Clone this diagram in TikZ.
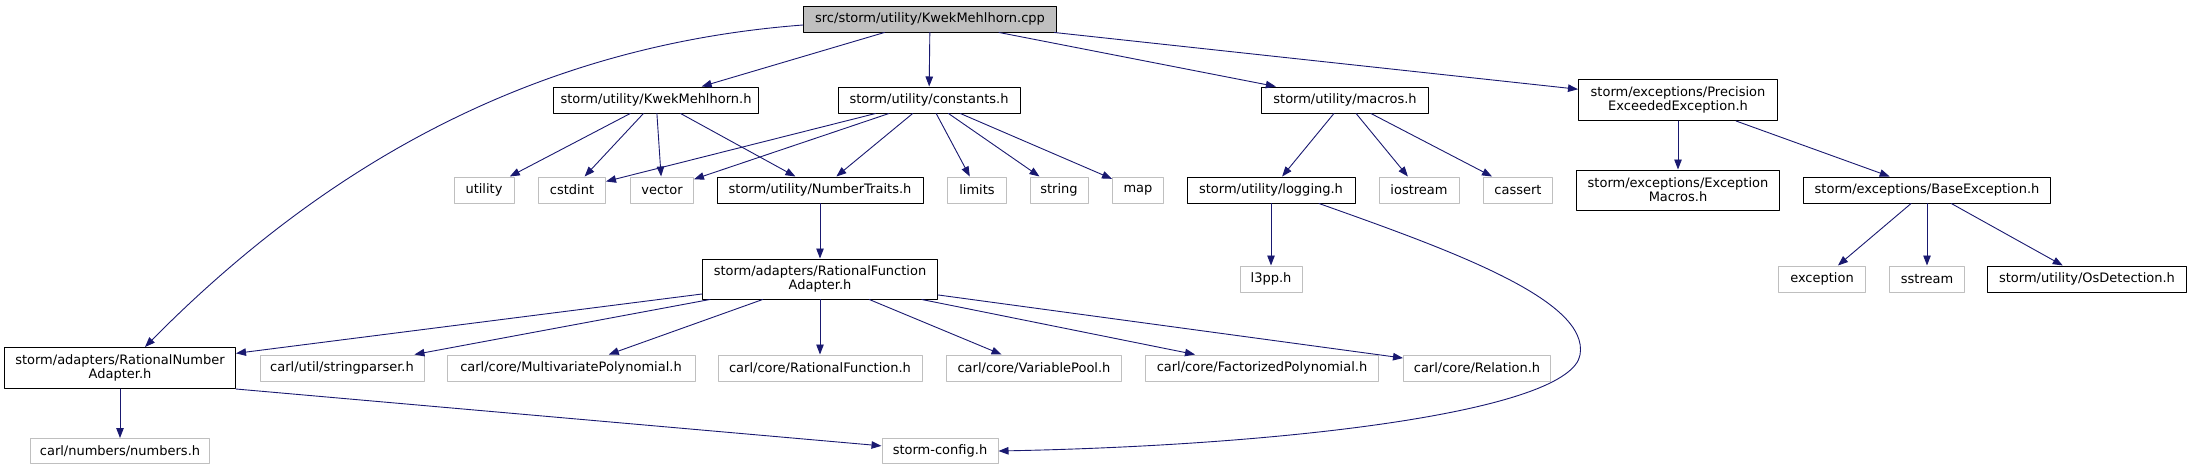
\documentclass[tikz,border=0pt]{standalone}
\usepackage{fontspec}
\setmainfont{DejaVu Sans}
\usepackage{xcolor}
\usepackage{tikz}
\usetikzlibrary{arrows.meta}

\definecolor{edgeblue}{HTML}{191970}
\definecolor{extgray}{HTML}{BFBFBF}

\tikzset{
    hdr/.style={
        rectangle, draw=black, fill=white, line width=1pt,
        inner sep=0pt, minimum height=26pt, align=center,
        font=\fontsize{13}{14}\selectfont
    },
    exthdr/.style={hdr, draw=extgray},
    rootbox/.style={hdr, fill=extgray},
    incl/.style={
        draw=edgeblue, line width=0.9pt,
        -{Triangle[length=10pt, width=7.5pt]}
    }
}

\begin{document}
\begin{tikzpicture}[
        x=1pt,
        y=-1pt,
        line join=round,
        line cap=round
    ]

        \useasboundingbox (0,0) rectangle (2192,469);

        % =================================
        % TẦNG 0: TỆP GỐC
        % =================================
        \node[rootbox, minimum width=253pt] (root) at (930,19)
            {src/storm/utility/KwekMehlhorn.cpp};


        % =================================
        % TẦNG 1
        % =================================
        \node[hdr, minimum width=205pt] (kwek) at (656,100)
            {storm/utility/KwekMehlhorn.h};
        \node[hdr, minimum width=182pt] (constants) at (929,100)
            {storm/utility/constants.h};
        \node[hdr, minimum width=167pt] (macros) at (1345,100)
            {storm/utility/macros.h};
        \node[hdr, minimum width=199pt, minimum height=41pt] (precision) at (1678,100)
            {storm/exceptions/Precision\\ExceededException.h};


        % =================================
        % TẦNG 2
        % =================================
        \node[exthdr, minimum width=60pt] (utility) at (484,190) {utility};
        \node[exthdr, minimum width=67pt] (cstdint) at (572,190) {cstdint};
        \node[exthdr, minimum width=63pt] (vector) at (662,190) {vector};
        \node[hdr, minimum width=206pt] (numtraits) at (820,190)
            {storm/utility/NumberTraits.h};
        \node[exthdr, minimum width=59pt] (limits) at (977,190) {limits};
        \node[exthdr, minimum width=58pt] (string) at (1059,190) {string};
        \node[exthdr, minimum width=51pt] (map) at (1138,190) {map};
        \node[hdr, minimum width=168pt] (logging) at (1271,190)
            {storm/utility/logging.h};
        \node[exthdr, minimum width=80pt] (iostream) at (1419,190) {iostream};
        \node[exthdr, minimum width=69pt] (cassert) at (1518,190) {cassert};
        \node[hdr, minimum width=203pt, minimum height=40pt] (excmacros) at (1678,190)
            {storm/exceptions/Exception\\Macros.h};
        \node[hdr, minimum width=247pt] (baseexc) at (1927,190)
            {storm/exceptions/BaseException.h};


        % =================================
        % TẦNG 3
        % =================================
        \node[hdr, minimum width=235pt, minimum height=40pt] (rfadapter) at (820,279)
            {storm/adapters/RationalFunction\\Adapter.h};
        \node[exthdr, minimum width=62pt] (l3pp) at (1271,279) {l3pp.h};
        \node[exthdr, minimum width=87pt] (exception) at (1822,279) {exception};
        \node[exthdr, minimum width=75pt] (sstream) at (1927,279) {sstream};
        \node[hdr, minimum width=199pt] (osdetect) at (2087,279)
            {storm/utility/OsDetection.h};


        % =================================
        % TẦNG 4
        % =================================
        \node[hdr, minimum width=231pt, minimum height=41pt] (rnadapter) at (120,368)
            {storm/adapters/RationalNumber\\Adapter.h};
        \node[exthdr, minimum width=164pt] (strparser) at (342,368)
            {carl/util/stringparser.h};
        \node[exthdr, minimum width=248pt] (multipoly) at (571,368)
            {carl/core/MultivariatePolynomial.h};
        \node[exthdr, minimum width=204pt] (ratfunc) at (820,368)
            {carl/core/RationalFunction.h};
        \node[exthdr, minimum width=175pt] (varpool) at (1034,368)
            {carl/core/VariablePool.h};
        \node[exthdr, minimum width=233pt] (factpoly) at (1262,368)
            {carl/core/FactorizedPolynomial.h};
        \node[exthdr, minimum width=147pt] (relation) at (1477,368)
            {carl/core/Relation.h};


        % =================================
        % TẦNG 5
        % =================================
        \node[exthdr, minimum width=179pt, minimum height=25pt] (numbers) at (120,451)
            {carl/numbers/numbers.h};
        \node[exthdr, minimum width=116pt, minimum height=25pt] (stormcfg) at (940,451)
            {storm-config.h};


        % =================================
        % CẠNH TỪ TỆP GỐC
        % =================================
        \draw[incl] (root) -- (kwek);
        \draw[incl] (root) -- (constants);
        \draw[incl] (root) -- (macros);
        \draw[incl] (root) -- (precision);

        % cạnh cong sang trái
        \draw[incl] ([yshift=-6pt]root.west)
            .. controls (540,45) and (330,160) .. ([xshift=25pt]rnadapter.north);


        % =================================
        % KwekMehlhorn.h
        % =================================
        \draw[incl] (kwek) -- (utility);
        \draw[incl] (kwek) -- (cstdint);
        \draw[incl] (kwek) -- (vector);
        \draw[incl] (kwek) -- (numtraits);


        % =================================
        % constants.h
        % =================================
        \draw[incl] (constants) -- (cstdint);
        \draw[incl] (constants) -- (vector);
        \draw[incl] (constants) -- (numtraits);
        \draw[incl] (constants) -- (limits);
        \draw[incl] (constants) -- (string);
        \draw[incl] (constants) -- (map);


        % =================================
        % macros.h VÀ logging.h
        % =================================
        \draw[incl] (macros) -- (logging);
        \draw[incl] (macros) -- (iostream);
        \draw[incl] (macros) -- (cassert);

        \draw[incl] (logging) -- (l3pp);

        % cạnh cong vòng qua bên phải
        \draw[incl] ([xshift=48pt]logging.south)
            .. controls (1450,250) and (1590,300) .. (1580,355)
            .. controls (1570,410) and (1300,445) .. (stormcfg.east);


        % =================================
        % CÁC NGOẠI LỆ
        % =================================
        \draw[incl] (precision) -- (excmacros);
        \draw[incl] (precision) -- (baseexc);

        \draw[incl] (baseexc) -- (exception);
        \draw[incl] (baseexc) -- (sstream);
        \draw[incl] (baseexc) -- (osdetect);


        % =================================
        % CÁC ADAPTER
        % =================================
        \draw[incl] (numtraits) -- (rfadapter);

        \draw[incl] (rfadapter) -- (rnadapter);
        \draw[incl] (rfadapter) -- (strparser);
        \draw[incl] (rfadapter) -- (multipoly);
        \draw[incl] (rfadapter) -- (ratfunc);
        \draw[incl] (rfadapter) -- (varpool);
        \draw[incl] (rfadapter) -- (factpoly);
        \draw[incl] (rfadapter) -- (relation);

        \draw[incl] (rnadapter) -- (numbers);
        \draw[incl] (rnadapter.south east) -- (stormcfg);

    \end{tikzpicture}
\end{document}
